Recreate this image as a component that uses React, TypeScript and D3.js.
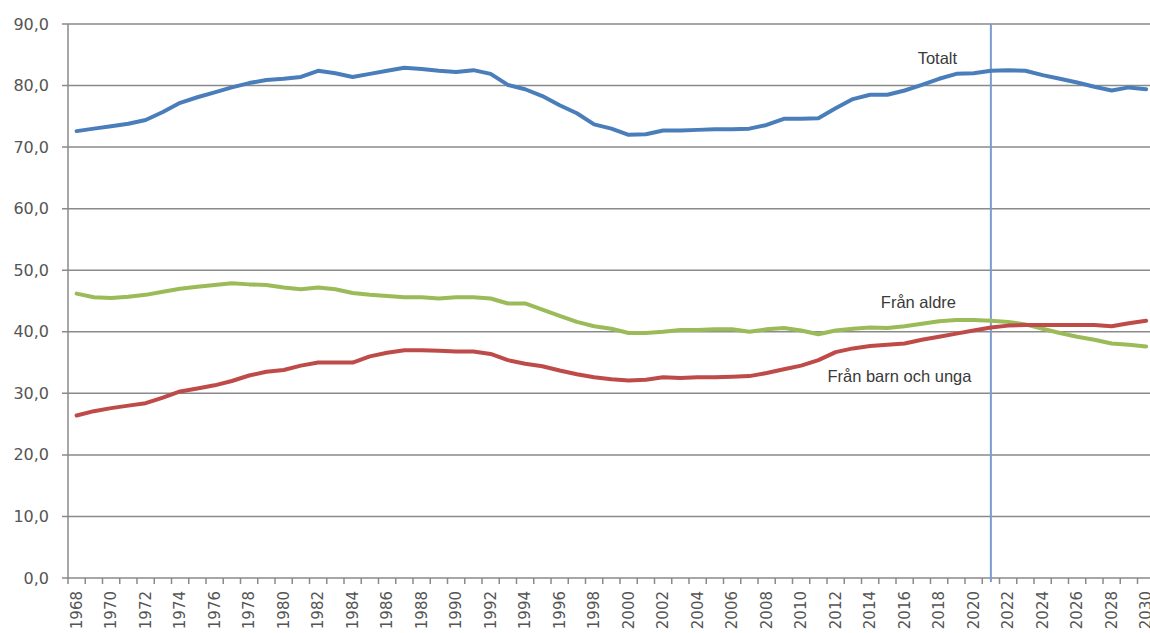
import React from "react";
import * as d3 from "d3";

const years: number[] = d3.range(1968, 2031);

const totalt: number[] = [
  72.6, 73.0, 73.4, 73.8, 74.4, 75.7, 77.2, 78.1, 78.9, 79.7,
  80.4, 80.9, 81.1, 81.4, 82.4, 82.0, 81.4, 81.9, 82.4, 82.9,
  82.7, 82.4, 82.2, 82.5, 81.9, 80.1, 79.4, 78.3, 76.8, 75.5,
  73.7, 73.0, 72.0, 72.1, 72.7, 72.7, 72.8, 72.9, 72.9, 73.0,
  73.6, 74.6, 74.6, 74.7, 76.3, 77.8, 78.5, 78.5, 79.2, 80.1,
  81.1, 81.9, 82.0, 82.4, 82.5, 82.4, 81.7, 81.1, 80.5, 79.8,
  79.2, 79.7, 79.4,
];

const franAldre: number[] = [
  46.2, 45.6, 45.5, 45.7, 46.0, 46.5, 47.0, 47.3, 47.6, 47.9,
  47.7, 47.6, 47.2, 46.9, 47.2, 46.9, 46.3, 46.0, 45.8, 45.6,
  45.6, 45.4, 45.6, 45.6, 45.4, 44.6, 44.6, 43.6, 42.6, 41.6,
  40.9, 40.5, 39.8, 39.8, 40.0, 40.3, 40.3, 40.4, 40.4, 40.0,
  40.4, 40.6, 40.2, 39.6, 40.2, 40.5, 40.7, 40.6, 40.9, 41.3,
  41.7, 41.9, 41.9, 41.8, 41.6, 41.2, 40.5, 39.8, 39.2, 38.7,
  38.1, 37.9, 37.6,
];

const franBarn: number[] = [
  26.4, 27.1, 27.6, 28.0, 28.4, 29.3, 30.3, 30.8, 31.3, 32.0,
  32.9, 33.5, 33.8, 34.5, 35.0, 35.0, 35.0, 36.0, 36.6, 37.0,
  37.0, 36.9, 36.8, 36.8, 36.4, 35.4, 34.8, 34.4, 33.7, 33.1,
  32.6, 32.3, 32.1, 32.2, 32.6, 32.5, 32.6, 32.6, 32.7, 32.8,
  33.3, 33.9, 34.5, 35.4, 36.7, 37.3, 37.7, 37.9, 38.1, 38.7,
  39.2, 39.7, 40.2, 40.7, 41.0, 41.1, 41.1, 41.1, 41.1, 41.1,
  40.9, 41.4, 41.8,
];

const yTicks: number[] = [0, 10, 20, 30, 40, 50, 60, 70, 80, 90];
const xLabelYears: number[] = years.filter((y) => (y - 1968) % 2 === 0);
const markerYear = 2021;

const seriesLabels = [
  { text: "Totalt", year: 2017.9, value: 83.5 },
  { text: "Från aldre", year: 2016.8, value: 43.8 },
  { text: "Från barn och unga", year: 2015.7, value: 31.8 },
];

export default function App() {
  const W = 1150;
  const H = 633;
  const left = 68;
  const band = 17.25;
  const x = d3
    .scaleBand<number>()
    .domain(years)
    .range([left, left + band * years.length])
    .paddingInner(0)
    .paddingOuter(0);
  const cx = (yr: number) => (x(yr) as number) + x.bandwidth() / 2;
  const xc = d3
    .scaleLinear()
    .domain([1968, 2030])
    .range([cx(1968), cx(2030)]);
  const y = d3.scaleLinear().domain([0, 90]).range([578, 24]);

  const line = d3
    .line<number>()
    .x((_, i) => cx(years[i]))
    .y((d) => y(d));

  const plotRight = left + band * years.length;
  const gridColor = "#8a8a8a";
  const axisText = "#555555";

  const series = [
    { data: totalt, color: "#4a7ebb" },
    { data: franAldre, color: "#9bbb59" },
    { data: franBarn, color: "#be4b48" },
  ];

  return (
    <svg
      width={W}
      height={H}
      style={{ position: "absolute", left: 0, top: 0, background: "#fff" }}
    >
      <rect x={0} y={0} width={W} height={H} fill="#fff" />
      {yTicks.map((t) => (
        <g key={t}>
          <line
            x1={62}
            x2={plotRight}
            y1={y(t)}
            y2={y(t)}
            stroke={gridColor}
            strokeWidth={1.5}
          />
          <text
            x={49}
            y={y(t)}
            dy="0.35em"
            textAnchor="end"
            fontFamily="DejaVu Sans, Verdana, sans-serif"
            fontSize={16}
            fill={axisText}
          >
            {t.toFixed(1).replace(".", ",")}
          </text>
        </g>
      ))}
      <line x1={left} x2={left} y1={y(90)} y2={y(0)} stroke={gridColor} strokeWidth={1.5} />
      {d3.range(years.length + 1).map((k) => (
        <line
          key={k}
          x1={left + k * band}
          x2={left + k * band}
          y1={y(0)}
          y2={y(0) + 6}
          stroke={gridColor}
          strokeWidth={1.5}
        />
      ))}
      {xLabelYears.map((yr) => (
        <text
          key={yr}
          transform={`translate(${cx(yr)},${591}) rotate(-90)`}
          dy="0.35em"
          textAnchor="end"
          fontFamily="DejaVu Sans, Verdana, sans-serif"
          fontSize={15}
          fill={axisText}
        >
          {yr}
        </text>
      ))}
      <line
        x1={cx(markerYear)}
        x2={cx(markerYear)}
        y1={y(90)}
        y2={y(0) + 4}
        stroke="#7b9ccf"
        strokeWidth={2}
      />
      {series.map((s, i) => (
        <path
          key={i}
          d={line(s.data) || ""}
          fill="none"
          stroke={s.color}
          strokeWidth={4}
          strokeLinejoin="round"
          strokeLinecap="round"
        />
      ))}
      {seriesLabels.map((l) => (
        <text
          key={l.text}
          x={xc(l.year)}
          y={y(l.value)}
          textAnchor="middle"
          fontFamily="Liberation Sans, Arial, sans-serif"
          fontSize={16.5}
          fill="#3a3a3a"
        >
          {l.text}
        </text>
      ))}
    </svg>
  );
}
